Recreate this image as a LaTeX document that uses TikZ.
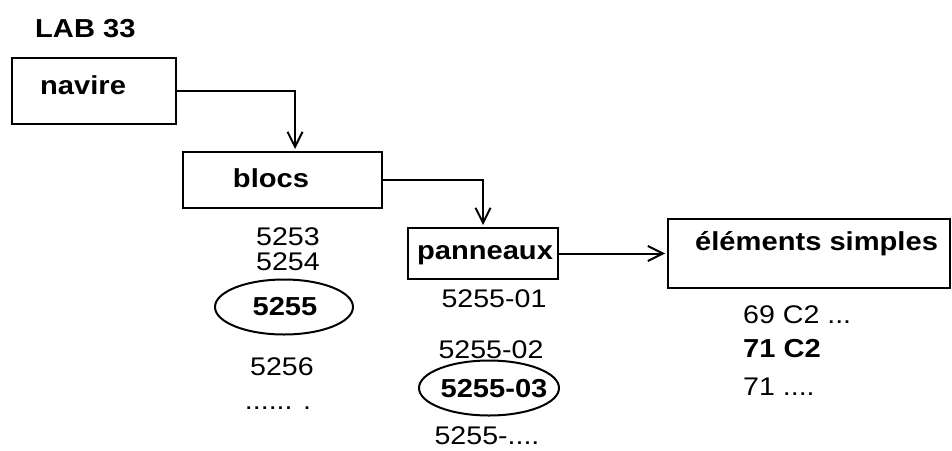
\documentclass[tikz,border=0pt]{standalone}
\usepackage{fontspec}
\setmainfont[FakeStretch=1.12]{Liberation Sans}
\usetikzlibrary{arrows.meta,shapes.geometric}
\begin{document}
\begin{tikzpicture}[x=1pt,y=-1pt,
  box/.style={draw, line width=2pt, inner sep=0pt},
  reg/.style={font=\fontsize{25.5}{30}\selectfont, inner sep=0pt},
  bld/.style={font=\fontsize{26}{30}\selectfont\bfseries, inner sep=0pt},
  oval/.style={draw, ellipse, line width=2pt, inner sep=0pt},
  arr/.style={draw, line width=2pt, -{Straight Barb[length=15pt,width=15pt]}, shorten >=2pt}]
\useasboundingbox (0,0) rectangle (952,450);

% title
\node[bld, anchor=base west] (lab) at (35,37) {LAB 33};

% boxes
\node[box, minimum width=164, minimum height=66] (navire) at (94,91) {};
\node[bld, anchor=base west] (tnavire) at (40,94) {navire};

\node[box, minimum width=199, minimum height=56] (blocs) at (282.5,180) {};
\node[bld, anchor=base] (tblocs) at (271,187) {blocs};

\node[box, minimum width=150, minimum height=51] (pann) at (483,253.5) {};
\node[bld, anchor=base] (tpann) at (485,259) {panneaux};

\node[box, minimum width=282, minimum height=69] (elem) at (809,253.5) {};
\node[bld, anchor=base west] (telem) at (695,250) {éléments simples};

% connectors
\draw[arr] (navire.east) -| ([xshift=12.5pt]blocs.north);
\draw[arr] (blocs.east) -| (pann.north);
\draw[arr] (pann.east) -- (elem.west);

% blocs column
\node[reg, anchor=base] (n5253) at (288,245) {5253};
\node[reg, anchor=base] (n5254) at (288,270) {5254};
\node[oval, minimum width=138, minimum height=55] (o5255) at (284,307) {};
\node[bld, anchor=base] (n5255) at (285,315) {5255};
\node[reg, anchor=base] (n5256) at (282,375) {5256};
\node[reg, anchor=base] (ndots) at (278,409) {...... .};

% panneaux column
\node[reg, anchor=base] (p01) at (494,307) {5255-01};
\node[reg, anchor=base] (p02) at (491,358) {5255-02};
\node[oval, minimum width=140, minimum height=55] (o03) at (489,388) {};
\node[bld, anchor=base] (p03) at (494,397) {5255-03};
\node[reg, anchor=base] (pdots) at (487,444) {5255-....};

% elements column
\node[reg, anchor=base west] (e1) at (743,323) {69 C2 ...};
\node[bld, anchor=base west] (e2) at (743,357) {71 C2};
\node[reg, anchor=base west] (e3) at (743,395) {71 ....};
\end{tikzpicture}
\end{document}
